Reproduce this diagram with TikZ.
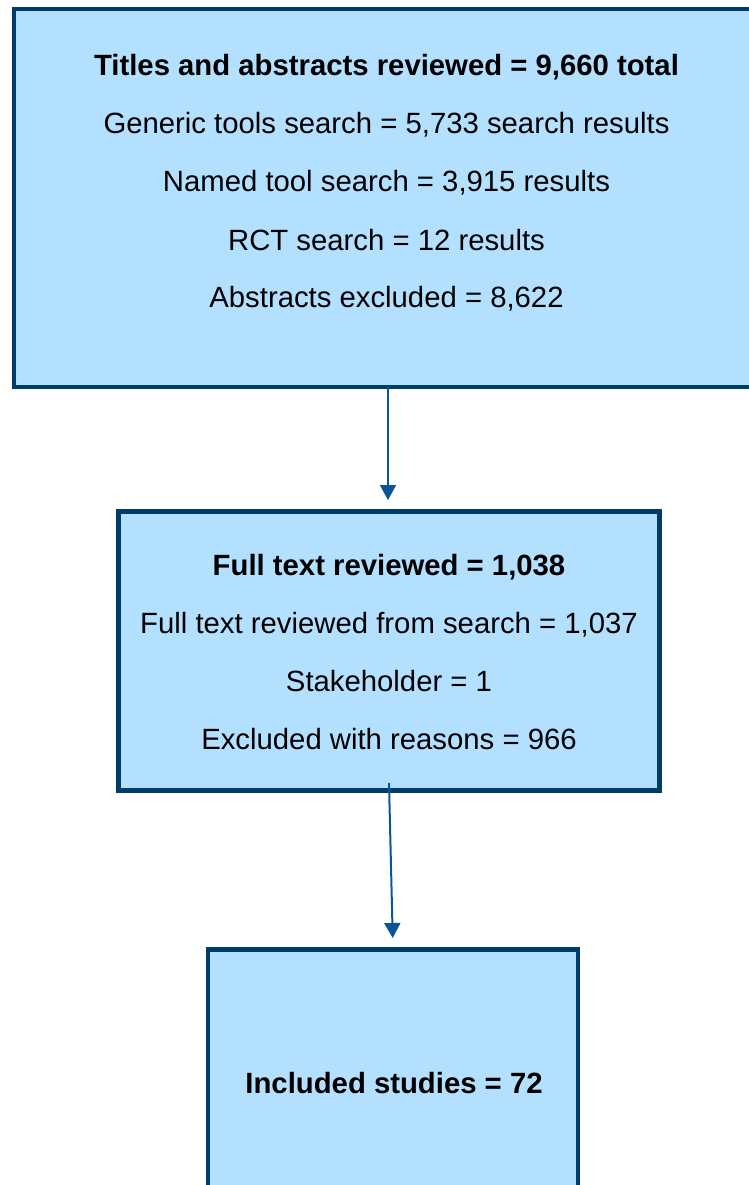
\documentclass[tikz,border=0pt]{standalone}
\usepackage{fontspec}
\setmainfont{Liberation Sans}
\usetikzlibrary{arrows.meta}
\definecolor{boxfill}{HTML}{B3E0FF}
\definecolor{boxline}{HTML}{003C68}
\definecolor{arrowcol}{HTML}{0B5596}
\begin{document}
\begin{tikzpicture}[x=1pt,y=-1pt,
  flowbox/.style={draw=boxline,fill=boxfill,line width=4.5pt,inner sep=0pt,outer sep=0pt,anchor=north west},
  txt/.style={anchor=base,inner sep=0pt,font=\fontsize{29.3}{35}\selectfont},
  btxt/.style={txt,font=\fontsize{29.3}{35}\selectfont\bfseries},
  arr/.style={draw=arrowcol,line width=2pt,-{Triangle[length=15pt,width=16pt]}}]
\useasboundingbox (0,0) rectangle (748,1185);
% boxes
\node[flowbox,minimum width=748pt,minimum height=378pt] (b1) at (14,9) {};
\node[flowbox,minimum width=541pt,minimum height=279pt] (b2) at (118.5,511.5) {};
\node[flowbox,minimum width=370pt,minimum height=260pt] (b3) at (208,949.5) {};
% texts box 1
\node[btxt] (t11) at (386.5,76) {Titles and abstracts reviewed = 9,660 total};
\node[txt] (t12) at (386.5,134) {Generic tools search = 5,733 search results};
\node[txt] (t13) at (386.5,192) {Named tool search = 3,915 results};
\node[txt] (t14) at (386.5,250) {RCT search = 12 results};
\node[txt] (t15) at (386.5,307.5) {Abstracts excluded = 8,622};
% texts box 2
\node[btxt] (t21) at (389,575) {Full text reviewed = 1,038};
\node[txt] (t22) at (389,633) {Full text reviewed from search = 1,037};
\node[txt] (t23) at (389,691) {Stakeholder = 1};
\node[txt] (t24) at (389,749) {Excluded with reasons = 966};
% text box 3
\node[btxt] (t31) at (394,1093) {Included studies = 72};
% arrows
\draw[arr,shorten >=11.5pt] (b1.south) -- (b1.south |- b2.north);
\draw[arr,shorten >=11.5pt] ([yshift=7.5pt]b2.south) -- (b3.north);
\end{tikzpicture}
\end{document}
